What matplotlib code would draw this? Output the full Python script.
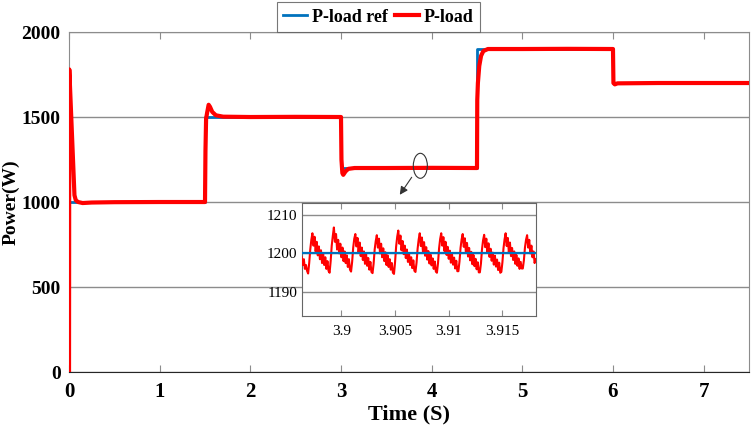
import matplotlib
matplotlib.use('Agg')
import matplotlib.pyplot as plt
from matplotlib.patches import Ellipse
import numpy as np

plt.rcParams['font.family'] = ['Liberation Serif', 'DejaVu Serif']

# ========== Data ==========
# reference power steps
ref_t = [0, 1.5, 1.5, 3.0, 3.0, 4.5, 4.5, 6.0, 6.0, 7.5]
ref_p = [1000, 1000, 1500, 1500, 1200, 1200, 1900, 1900, 1700, 1700]

# measured load power (key points of the trace)
load_t = [0, 0.003, 0.02, 0.04, 0.06, 0.075, 0.1, 0.15, 0.25, 0.5, 1.0, 1.5,
          1.505, 1.512, 1.525, 1.54, 1.555, 1.58, 1.62, 1.7, 2.0, 2.5, 3.0,
          3.005, 3.015, 3.025, 3.05, 3.08, 3.15, 3.5, 4.0, 4.5,
          4.503, 4.51, 4.525, 4.545, 4.57, 4.62, 5.0, 5.5, 6.0,
          6.005, 6.02, 6.05, 6.5, 7.0, 7.5]
load_p = [0, 1780, 1560, 1300, 1040, 1010, 1000, 994, 997, 999, 1000, 1000,
          1300, 1490, 1530, 1572, 1560, 1530, 1510, 1502, 1500, 1501, 1500,
          1250, 1170, 1160, 1180, 1195, 1200, 1200, 1201, 1200,
          1600, 1700, 1800, 1860, 1888, 1900, 1900, 1901, 1900,
          1700, 1692, 1698, 1700, 1700, 1700]

# zoomed ripple around t = 3.9 s, one sample every 0.1 ms from 3.8963 s
zoom_t0 = 3.8963
zoom_dt = 0.0001
zoom_p = [
    1199.0, 1197.0, 1198.5, 1196.0, 1197.0, 1195.5,
    1194.8, 1197.5, 1201.0, 1203.5, 1205.2, 1202.0, 1204.3, 1200.5, 1203.0, 1199.5,
    1201.8, 1198.5, 1200.8, 1197.5, 1199.8, 1197.0, 1199.0, 1196.0, 1198.0, 1195.5,
    1195.0, 1198.0, 1202.0, 1204.5, 1206.7, 1203.0, 1205.0, 1201.0, 1203.5, 1200.0,
    1202.5, 1199.0, 1201.5, 1198.0, 1200.5, 1197.5, 1199.5, 1196.5, 1198.5, 1195.8,
    1195.3, 1197.8, 1201.5, 1203.8, 1205.0, 1201.8, 1204.0, 1200.3, 1202.8, 1199.3,
    1201.5, 1198.3, 1200.5, 1197.3, 1199.8, 1196.8, 1198.8, 1195.8, 1197.8, 1195.2,
    1194.9, 1197.3, 1201.0, 1203.2, 1204.7, 1201.5, 1203.8, 1200.0, 1202.5, 1199.0,
    1201.3, 1198.0, 1200.3, 1197.0, 1199.5, 1196.5, 1198.5, 1195.8, 1197.5, 1195.0,
    1194.7, 1197.8, 1201.8, 1204.3, 1205.9, 1202.5, 1204.6, 1200.8, 1203.2, 1199.8,
    1202.0, 1198.8, 1201.0, 1197.8, 1200.0, 1197.0, 1199.0, 1196.2, 1198.2, 1195.5,
    1195.2, 1197.6, 1201.2, 1203.6, 1205.2, 1201.9, 1204.1, 1200.4, 1202.9, 1199.4,
    1201.6, 1198.4, 1200.6, 1197.4, 1199.7, 1196.9, 1198.7, 1196.0, 1197.9, 1195.3,
    1195.0, 1197.5, 1201.3, 1203.7, 1205.2, 1202.0, 1204.2, 1200.6, 1203.0, 1199.6,
    1201.7, 1198.6, 1200.7, 1197.6, 1199.9, 1197.1, 1198.9, 1196.1, 1198.1, 1195.4,
    1195.4, 1197.9, 1201.4, 1203.6, 1205.0, 1201.7, 1203.9, 1200.2, 1202.7, 1199.2,
    1201.4, 1198.2, 1200.4, 1197.2, 1199.6, 1196.7, 1198.6, 1195.9, 1197.7, 1195.1,
    1195.1, 1197.4, 1201.1, 1203.4, 1204.8, 1201.6, 1203.8, 1200.1, 1202.6, 1199.1,
    1201.2, 1198.1, 1200.2, 1197.1, 1199.4, 1196.6, 1198.4, 1195.7, 1197.6, 1195.0,
    1195.2, 1197.7, 1201.3, 1203.6, 1205.2, 1201.9, 1204.0, 1200.3, 1202.8, 1199.3,
    1201.4, 1198.3, 1200.5, 1197.3, 1199.6, 1196.8, 1198.7, 1196.0, 1197.8, 1196.1,
    1196.1, 1198.2, 1201.5, 1203.5, 1204.7, 1201.5, 1203.5, 1200.0, 1202.0, 1199.0,
    1200.5, 1197.5, 1198.5,
]
zoom_t = zoom_t0 + zoom_dt * np.arange(len(zoom_p))

x_ticks = [0, 1, 2, 3, 4, 5, 6, 7]
y_ticks = [0, 500, 1000, 1500, 2000]
zoom_xticks = [3.9, 3.905, 3.91, 3.915]
zoom_yticks = [1190, 1200, 1210]

BLUE = '#0072BD'
RED = '#FF0000'
GRAY = '#8c8c8c'

# ========== Main axes ==========
fig = plt.figure(figsize=(7.51, 4.28), dpi=100)
ax = fig.add_axes([0.0919, 0.1308, 0.9054, 0.7944])

ax.plot(ref_t, ref_p, color=BLUE, linewidth=2, label='P-load ref', zorder=3)
ax.plot(load_t, load_p, color=RED, linewidth=3, label='P-load', zorder=4)

ax.set_xlim(0, 7.5)
ax.set_ylim(0, 2000)
ax.set_xticks(x_ticks)
ax.set_yticks(y_ticks)
ax.yaxis.grid(True, color=GRAY, linewidth=1)
ax.set_axisbelow(True)
ax.tick_params(axis='x', direction='in', top=True, length=5, width=0.8,
               color=GRAY, labelsize=15, pad=7)
ax.tick_params(axis='y', length=0, labelsize=14, pad=6)
for lab in ax.get_xticklabels() + ax.get_yticklabels():
    lab.set_fontweight('bold')
for side in ['top', 'left', 'right']:
    ax.spines[side].set_color(GRAY)
ax.spines['bottom'].set_color('#262626')

ax.set_xlabel('Time (S)', fontsize=16, fontweight='bold', labelpad=2)
ax.set_ylabel('Power(W)', fontsize=14, fontweight='bold')
ax.yaxis.set_label_coords(-0.073, 0.5)

leg = ax.legend(loc='lower center', bbox_to_anchor=(0.455, 1.0), ncol=2,
                frameon=True, fancybox=False, borderaxespad=0,
                prop={'weight': 'bold', 'size': 13}, handlelength=1.3,
                handletextpad=0.3, columnspacing=0.4, borderpad=0.35)
leg.get_frame().set_edgecolor('#555555')
leg.get_frame().set_linewidth(0.8)

# ellipse marking the zoomed region and arrow to the inset
ax.add_patch(Ellipse((3.875, 1213), 0.155, 147, fill=False,
                     edgecolor='#333333', linewidth=0.8, zorder=6))
ax.annotate('', xy=(3.631, 1029), xytext=(3.797, 1159),
            arrowprops=dict(arrowstyle='-|>', color='#333333', lw=0.8,
                            mutation_scale=12), zorder=6)

# ========== Inset ==========
axin = fig.add_axes([0.4017, 0.2624, 0.3116, 0.264])
axin.plot(zoom_t, zoom_p, color=RED, linewidth=1.5, zorder=3)
axin.plot([zoom_t[0], zoom_t[-1]], [1200, 1200], color=BLUE, linewidth=1.6, zorder=4)
axin.set_xlim(3.8963, 3.9181)
axin.set_ylim(1183.9, 1213.1)
axin.set_xticks(zoom_xticks)
axin.set_xticklabels(['3.9', '3.905', '3.91', '3.915'])
axin.set_yticks(zoom_yticks)
axin.yaxis.grid(True, color=GRAY, linewidth=1)
axin.set_axisbelow(True)
axin.tick_params(axis='x', direction='in', top=True, length=4, width=0.8,
                 color=GRAY, labelsize=11, pad=7)
axin.tick_params(axis='y', length=0, labelsize=11, pad=3)
for side in axin.spines:
    axin.spines[side].set_color('#666666')

plt.savefig('out.png', dpi=100)
